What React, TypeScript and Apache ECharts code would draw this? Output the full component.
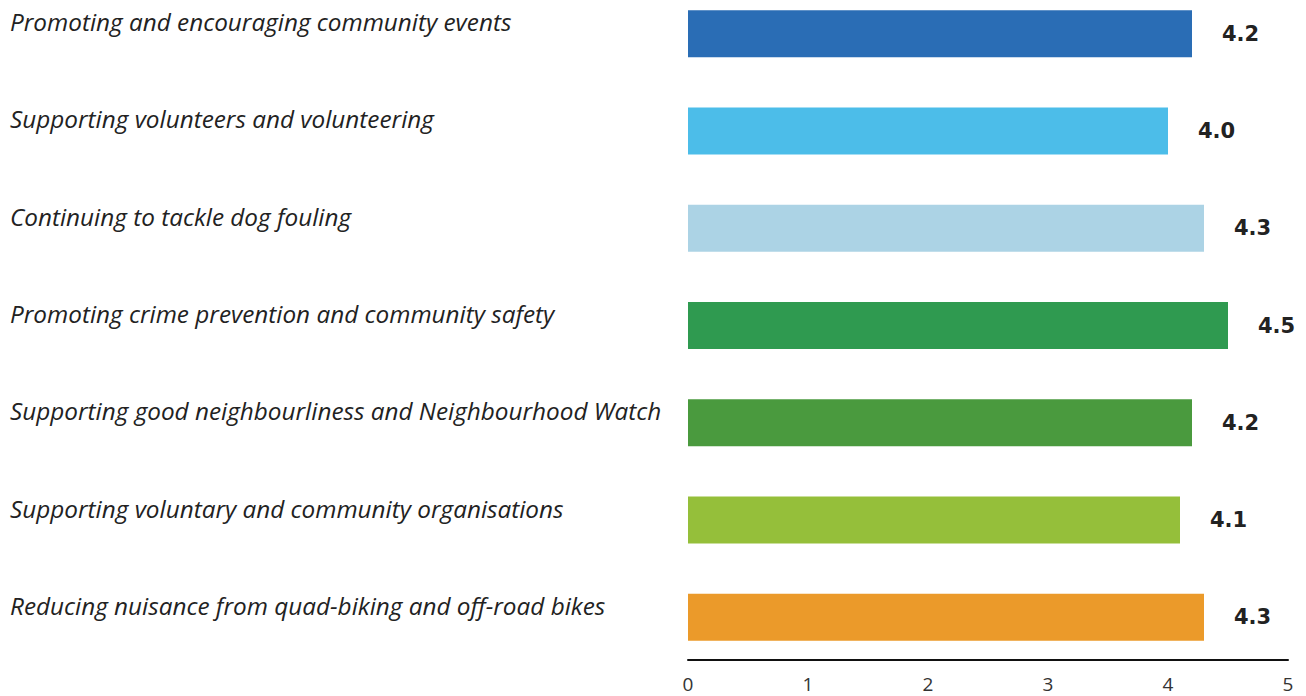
import React, { useEffect, useRef } from "react";
import * as echarts from "echarts";

const categories = [
  "Promoting and encouraging community events",
  "Supporting volunteers and volunteering",
  "Continuing to tackle dog fouling",
  "Promoting crime prevention and community safety",
  "Supporting good neighbourliness and Neighbourhood Watch",
  "Supporting voluntary and community organisations",
  "Reducing nuisance from quad-biking and off-road bikes",
];
const values = [4.2, 4.0, 4.3, 4.5, 4.2, 4.1, 4.3];
const barColors = ["#2a6db5", "#4cbde9", "#acd3e5", "#2f9a50", "#4a9a3e", "#95bf3a", "#eb9a2a"];
const xTicks = [0, 1, 2, 3, 4, 5];

export default function App() {
  const ref = useRef<HTMLDivElement>(null);
  useEffect(() => {
    if (!ref.current) return;
    const chart = echarts.init(ref.current, undefined, { renderer: "svg" });
    chart.setOption({
      animation: false,
      backgroundColor: "#ffffff",
      grid: { left: 688, right: 18, top: 0, bottom: 30, containLabel: false },
      xAxis: {
        type: "value",
        min: xTicks[0],
        max: xTicks[xTicks.length - 1],
        interval: 1,
        offset: -6,
        axisLine: { show: true, lineStyle: { color: "#111", width: 2 } },
        axisTick: { show: false },
        splitLine: { show: false },
        axisLabel: {
          margin: 14,
          fontSize: 19,
          color: "#333",
          fontFamily: "Open Sans",
        },
      },
      yAxis: {
        type: "category",
        inverse: true,
        data: categories,
        axisLine: { show: false },
        axisTick: { show: false },
        axisLabel: {
          align: "left",
          verticalAlign: "bottom",
          lineHeight: 24,
          margin: 678,
          fontSize: 24.3,
          fontStyle: "italic",
          fontFamily: "Open Sans",
          color: "#222",
        },
      },
      series: [
        {
          type: "bar",
          barWidth: 47,
          data: values.map((v, i) => ({ value: v, itemStyle: { color: barColors[i] } })),
          label: {
            show: true,
            position: "right",
            distance: 30,
            formatter: (p: any) => Number(p.value).toFixed(1),
            fontFamily: "DejaVu Sans",
            fontWeight: "bold",
            fontSize: 21,
            color: "#222",
          },
        },
      ],
    });
    return () => chart.dispose();
  }, []);
  return (
    <div
      ref={ref}
      style={{ position: "fixed", left: 0, top: -15, width: 1306, height: 711 }}
    />
  );
}
